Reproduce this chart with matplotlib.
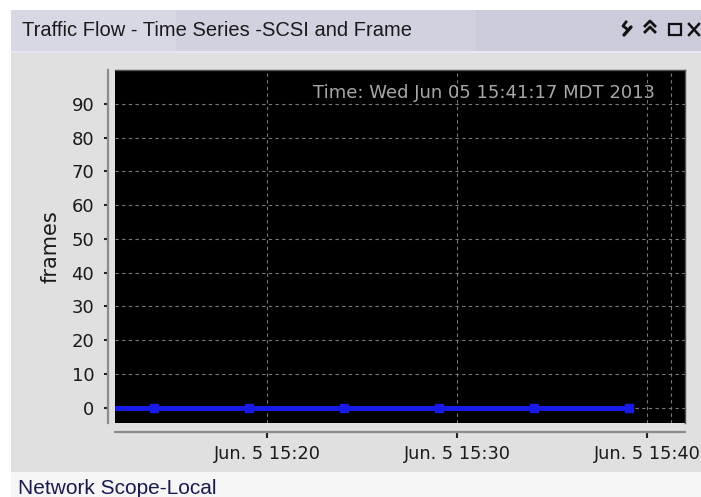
import matplotlib
matplotlib.use("Agg")
import matplotlib.pyplot as plt
import matplotlib.dates as mdates
from matplotlib.patches import Rectangle
from matplotlib.ticker import FuncFormatter
import pandas as pd

W, H = 701, 497

# frame counts sampled every 5 minutes (link idle -> all zero)
sample_times = ["2013-06-05 15:09:03", "2013-06-05 15:14:03", "2013-06-05 15:19:03",
                "2013-06-05 15:24:03", "2013-06-05 15:29:03", "2013-06-05 15:34:03",
                "2013-06-05 15:39:03"]
frames = [0, 0, 0, 0, 0, 0, 0]

y_ticks = [0, 10, 20, 30, 40, 50, 60, 70, 80, 90]
x_ticks = ["2013-06-05 15:20", "2013-06-05 15:30", "2013-06-05 15:40"]
window = ["2013-06-05 15:12:00", "2013-06-05 15:42:00"]
now = "2013-06-05 15:41:17"

panel_title = "Traffic Flow - Time Series -SCSI and Frame"
footer = "Network Scope-Local"
stamp = "Time: Wed Jun 05 15:41:17 MDT 2013"

t = pd.to_datetime(sample_times)

fig = plt.figure(figsize=(W / 100, H / 100), dpi=100)
fig.patch.set_facecolor("white")

# window chrome drawn in pixel coordinates
chrome = fig.add_axes([0, 0, 1, 1], zorder=-1)
chrome.set_xlim(0, W)
chrome.set_ylim(H, 0)
chrome.axis("off")
chrome.add_patch(Rectangle((11, 10), 165, 41, color="#d8d8e4", lw=0))
chrome.add_patch(Rectangle((176, 10), 300, 41, color="#d1d1df", lw=0))
chrome.add_patch(Rectangle((476, 10), 225, 41, color="#cbcbdb", lw=0))
chrome.add_patch(Rectangle((11, 51), 690, 2, color="#e6e6f4", lw=0))
chrome.add_patch(Rectangle((11, 53), 690, 419, color="#e0e0e0", lw=0))
chrome.add_patch(Rectangle((11, 472), 690, 25, color="#f5f5f5", lw=0))

# title bar icons: wrench, collapse, maximise, close
ic = "#111111"
chrome.plot([624, 631], [35, 27], color=ic, lw=2.4, solid_capstyle="round")
chrome.plot([626, 623, 627], [22, 26, 29], color=ic, lw=2)
for yy in (26, 32):
    chrome.plot([645, 650, 655], [yy, yy - 5, yy], color=ic, lw=2)
chrome.add_patch(Rectangle((669, 24), 12, 11, fill=False, ec=ic, lw=1.6))
chrome.plot([689, 699], [24, 35], color=ic, lw=1.8)
chrome.plot([689, 699], [35, 24], color=ic, lw=1.8)

fig.text(22 / W, 1 - 30.5 / H, panel_title, family="Liberation Sans", fontsize=14.5,
         color="#1a1a1a", ha="left", va="center")
fig.text(18 / W, 1 - 488 / H, footer, family="Liberation Sans", fontsize=15,
         color="#1a1a50", ha="left", va="center")

ax = fig.add_axes([115 / W, 1 - 423 / H, 570 / W, 353 / H])
ax.set_facecolor("black")

ax.plot(t, frames, color="#1a1ae8", lw=3.6, marker="s", ms=5.5, mec="#1a1ae8", zorder=3)
ax.axvline(pd.Timestamp(now), color="#7a7a7a", lw=0.8, ls=(0, (3, 3)), zorder=1)

ax.set_xlim(pd.to_datetime(window))
ax.set_ylim(-4.5, 100)
ax.set_yticks(y_ticks)
ax.set_xticks(pd.to_datetime(x_ticks))
ax.xaxis.set_major_formatter(FuncFormatter(
    lambda v, p: (lambda d: f"{d:%b}. {d.day} {d:%H:%M}")(mdates.num2date(v))))

ax.grid(True, color="#7a7a7a", lw=0.8, ls=(0, (3, 3)))
ax.set_axisbelow(True)

for side in ("top", "right"):
    ax.spines[side].set_color("#505050")
    ax.spines[side].set_linewidth(1)
ax.spines["left"].set_position(("outward", 5))
ax.spines["bottom"].set_position(("outward", 6.5))
for side in ("left", "bottom"):
    ax.spines[side].set_color("#8c8c8c")
    ax.spines[side].set_linewidth(1.6)

ax.tick_params(axis="y", length=3, width=1.5, color="#222222", pad=7,
               labelsize=13, labelcolor="#1a1a1a")
ax.tick_params(axis="x", length=4, width=1.5, color="#222222", pad=5,
               labelsize=12.8, labelcolor="#1a1a1a")

ax.set_ylabel("frames", fontsize=15, color="#1a1a1a")
ax.yaxis.set_label_coords(-0.095, 0.5)

ax.text(0.947, 0.935, stamp, transform=ax.transAxes, ha="right", va="center",
        fontsize=13, color="#a8a8a8")

fig.savefig("out.png", dpi=100, facecolor=fig.get_facecolor())
